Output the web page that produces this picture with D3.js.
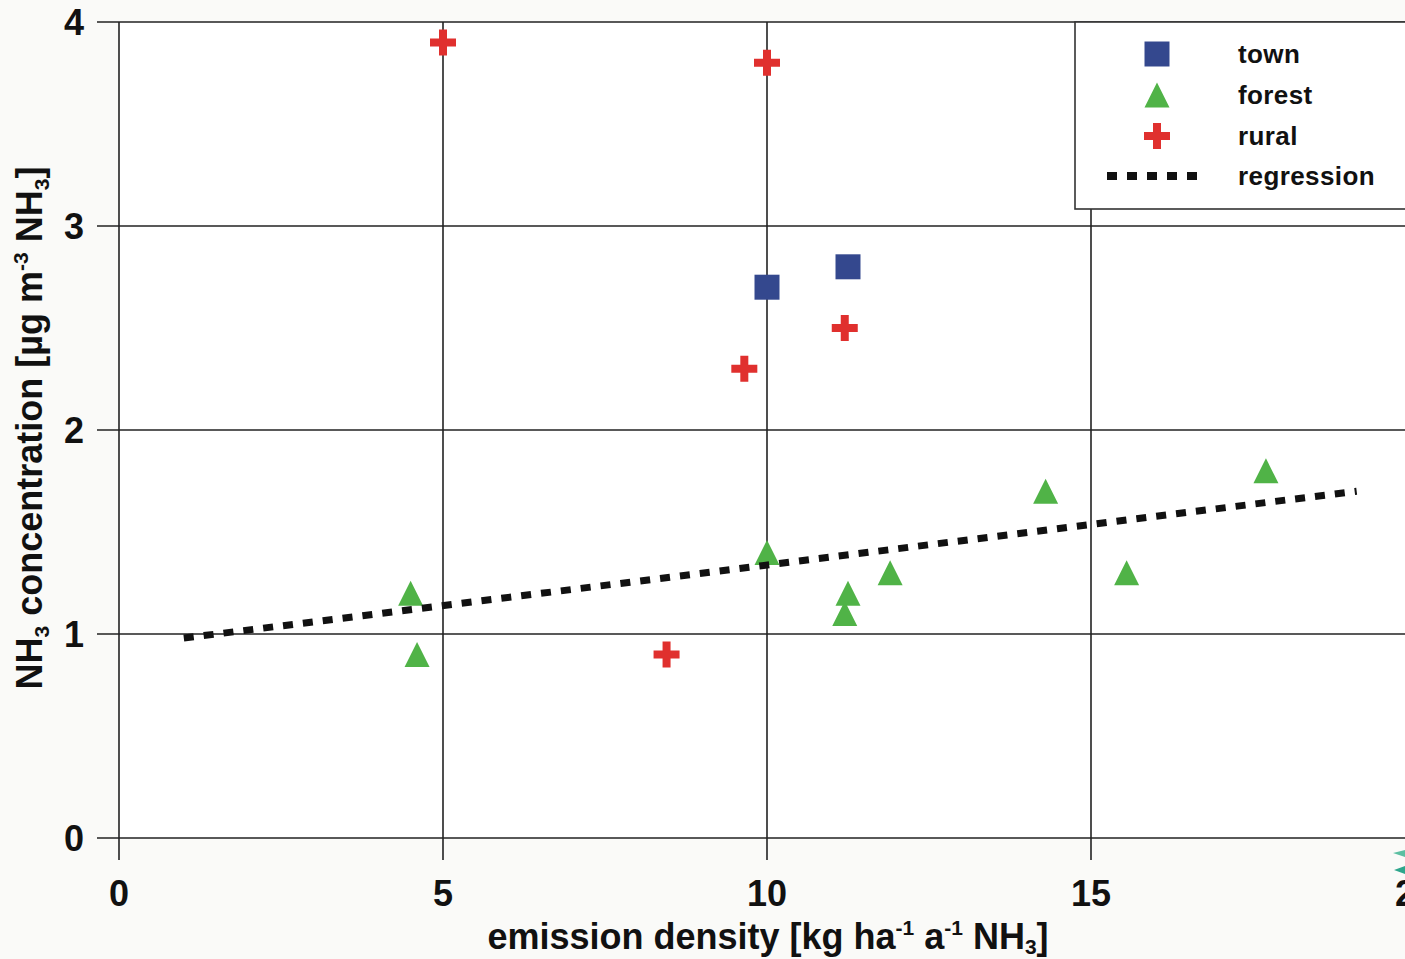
<!DOCTYPE html>
<html>
<head>
<meta charset="utf-8">
<script src="https://cdn.jsdelivr.net/npm/d3@7"></script>
<style>
  html, body { margin: 0; padding: 0; background: #fafaf8; }
  svg { display: block; }
  text { font-family: "Liberation Sans", Arial, sans-serif; font-weight: bold; fill: #111; }
</style>
</head>
<body>
<svg id="chart" width="1405" height="959"></svg>
<script>
// ---------- data ----------
const townX = [10.0, 11.25];
const townY = [2.70, 2.80];

const forestX = [4.5, 4.6, 10.0, 11.25, 11.2, 11.9, 14.3, 15.55, 17.7];
const forestY = [1.20, 0.90, 1.40, 1.20, 1.10, 1.30, 1.70, 1.30, 1.80];

const ruralX = [5.0, 10.0, 9.65, 11.2, 8.45];
const ruralY = [3.90, 3.80, 2.30, 2.50, 0.90];

const regressionX = [1, 19.1];
const regressionY = [0.98, 1.70];

const xTicks = [0, 5, 10, 15, 20];
const yTicks = [0, 1, 2, 3, 4];

const legendLabels = ["town", "forest", "rural", "regression"];

// ---------- layout ----------
const W = 1405, H = 959;
const plotLeft = 119, plotTop = 22, plotBottom = 838;
const svg = d3.select("#chart");

const x = d3.scaleLinear().domain([0, 20]).range([plotLeft, 1415]);
const y = d3.scaleLinear().domain([0, 4]).range([plotBottom, plotTop]);

const colTown = "#34488e", colForest = "#50b347", colRural = "#e0302e";

// plot background
svg.append("rect").attr("x", plotLeft).attr("y", plotTop)
  .attr("width", W - plotLeft).attr("height", plotBottom - plotTop).attr("fill", "#ffffff");

// gridlines (horizontal)
const gridCol = "#222";
svg.append("g").selectAll("line").data(yTicks).join("line")
  .attr("x1", 97).attr("x2", W)
  .attr("y1", d => y(d)).attr("y2", d => y(d))
  .attr("stroke", gridCol).attr("stroke-width", 1.6);
// gridlines (vertical)
svg.append("g").selectAll("line").data(xTicks.filter(d => x(d) < W)).join("line")
  .attr("x1", d => x(d)).attr("x2", d => x(d))
  .attr("y1", plotTop).attr("y2", 860)
  .attr("stroke", gridCol).attr("stroke-width", 1.6);

// tick labels
svg.append("g").selectAll("text").data(yTicks).join("text")
  .attr("x", 84).attr("y", d => y(d)).attr("dy", "0.36em")
  .attr("text-anchor", "end").attr("font-size", 36).text(d => d);
svg.append("g").selectAll("text").data(xTicks).join("text")
  .attr("x", d => x(d)).attr("y", 906)
  .attr("text-anchor", "middle").attr("font-size", 36).text(d => d);

// axis titles
const xt = svg.append("text").attr("x", 768).attr("y", 949)
  .attr("text-anchor", "middle").attr("font-size", 36);
xt.append("tspan").text("emission density [kg ha");
xt.append("tspan").attr("font-size", 21).attr("dy", -14).text("-1");
xt.append("tspan").attr("dy", 14).text(" a");
xt.append("tspan").attr("font-size", 21).attr("dy", -14).text("-1");
xt.append("tspan").attr("dy", 14).text(" NH");
xt.append("tspan").attr("font-size", 21).attr("dy", 5).text("3");
xt.append("tspan").attr("dy", -5).text("]");

const yt = svg.append("text").attr("transform", "translate(42,428) rotate(-90)")
  .attr("text-anchor", "middle").attr("font-size", 36);
yt.append("tspan").text("NH");
yt.append("tspan").attr("font-size", 21).attr("dy", 7).text("3");
yt.append("tspan").attr("dy", -7).text(" concentration [µg m");
yt.append("tspan").attr("font-size", 21).attr("dy", -14).text("-3");
yt.append("tspan").attr("dy", 14).text(" NH");
yt.append("tspan").attr("font-size", 21).attr("dy", 7).text("3");
yt.append("tspan").attr("dy", -7).text("]");

// marker shapes
const sq = 25;
const squarePath = `M${-sq/2},${-sq/2}h${sq}v${sq}h${-sq}Z`;
const tw = 25, th = 25;
const triPath = `M0,${-th/2}L${tw/2},${th/2}L${-tw/2},${th/2}Z`;
const cs = 26, ca = 8;
const crossPath = `M${-ca/2},${-cs/2}h${ca}v${(cs-ca)/2}h${(cs-ca)/2}v${ca}h${-(cs-ca)/2}v${(cs-ca)/2}h${-ca}v${-(cs-ca)/2}h${-(cs-ca)/2}v${-ca}h${(cs-ca)/2}Z`;

// town
svg.append("g").selectAll("path").data(d3.range(townX.length)).join("path")
  .attr("d", squarePath).attr("fill", colTown)
  .attr("transform", i => `translate(${x(townX[i])},${y(townY[i])})`);
// forest
svg.append("g").selectAll("path").data(d3.range(forestX.length)).join("path")
  .attr("d", triPath).attr("fill", colForest)
  .attr("transform", i => `translate(${x(forestX[i])},${y(forestY[i])})`);
// rural
svg.append("g").selectAll("path").data(d3.range(ruralX.length)).join("path")
  .attr("d", crossPath).attr("fill", colRural)
  .attr("transform", i => `translate(${x(ruralX[i])},${y(ruralY[i])})`);

// regression
const line = d3.line().x(d => x(d[0])).y(d => y(d[1]));
svg.append("path").datum(regressionX.map((v, i) => [v, regressionY[i]]))
  .attr("d", line).attr("fill", "none").attr("stroke", "#111")
  .attr("stroke-width", 7).attr("stroke-dasharray", "10,10");

// legend
svg.append("rect").attr("x", 1075).attr("y", plotTop).attr("width", 400).attr("height", 187)
  .attr("fill", "#fff").attr("stroke", "#333").attr("stroke-width", 1.6);
const legY = [54, 95, 136, 176];
const lg = svg.append("g");
lg.append("path").attr("d", squarePath).attr("fill", colTown).attr("transform", `translate(1157,${legY[0]})`);
lg.append("path").attr("d", triPath).attr("fill", colForest).attr("transform", `translate(1157,${legY[1]})`);
lg.append("path").attr("d", crossPath).attr("fill", colRural).attr("transform", `translate(1157,${legY[2]})`);
lg.append("line").attr("x1", 1107).attr("x2", 1203).attr("y1", legY[3]).attr("y2", legY[3])
  .attr("stroke", "#111").attr("stroke-width", 8).attr("stroke-dasharray", "10,10");
lg.selectAll("text").data(legendLabels).join("text")
  .attr("x", 1238).attr("y", (d, i) => legY[i]).attr("dy", "0.35em")
  .attr("font-size", 26).attr("letter-spacing", 0.4).text(d => d);

// small teal decoration at bottom-right corner
svg.append("path").attr("d", "M1393,853 L1405,850 L1405,857 Z").attr("fill", "#5cbfa2");
svg.append("path").attr("d", "M1394,870 L1405,866 L1405,874 Z").attr("fill", "#2ea68c");
</script>
</body>
</html>
